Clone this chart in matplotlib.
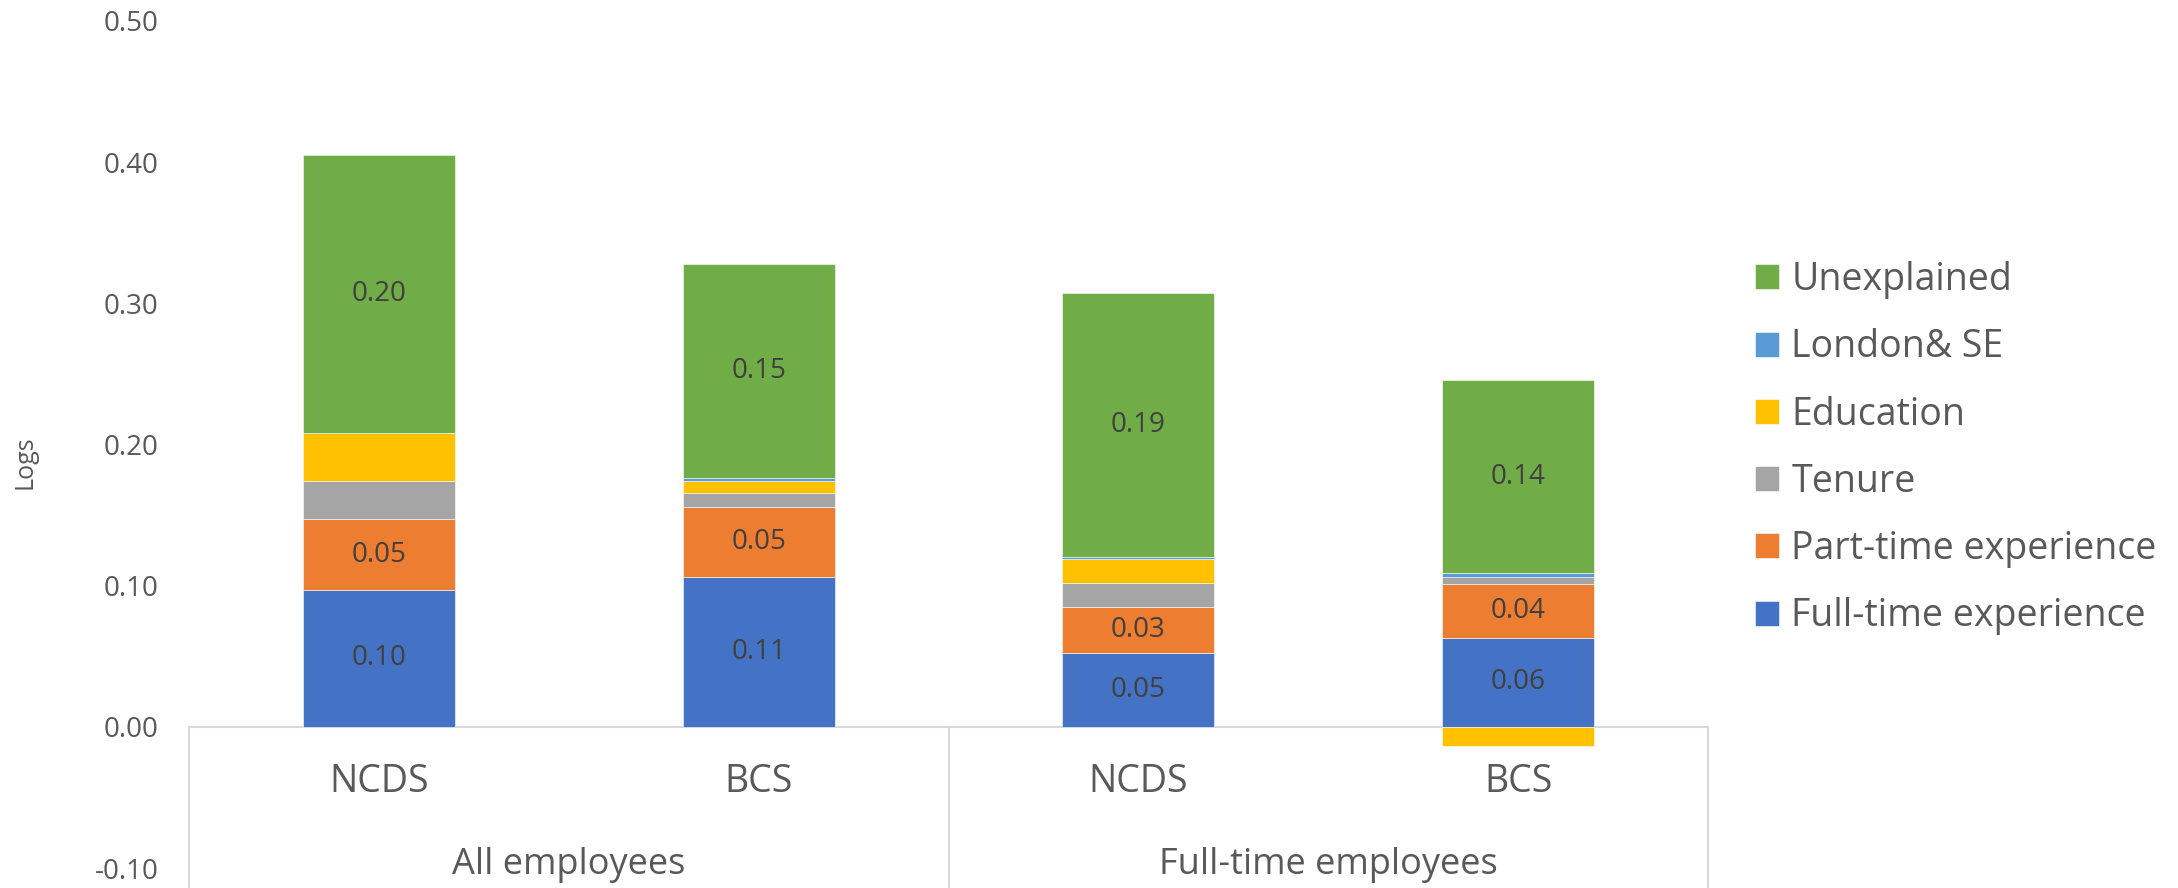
import matplotlib.pyplot as plt
import numpy as np

# data
groups = ["All employees", "Full-time employees"]
cohorts = ["NCDS", "BCS", "NCDS", "BCS"]
full_time = [0.097, 0.106, 0.052, 0.063]
part_time = [0.050, 0.050, 0.033, 0.038]
tenure = [0.027, 0.0095, 0.0166, 0.005]
education = [0.034, 0.0087, 0.017, -0.0137]
london = [0.0, 0.0019, 0.0014, 0.0028]
unexplained = [0.197, 0.152, 0.187, 0.137]

series = [
    ("Full-time experience", full_time, "#4472C4", True),
    ("Part-time experience", part_time, "#ED7D31", True),
    ("Tenure", tenure, "#A5A5A5", False),
    ("Education", education, "#FFC000", False),
    ("London& SE", london, "#5B9BD5", False),
    ("Unexplained", unexplained, "#70AD47", True),
]

main_font = ["Open Sans", "DejaVu Sans"]

fig = plt.figure(figsize=(21.78, 8.88), dpi=100)
ax = fig.add_axes([0.0868, 0.0225, 0.6974, 0.9539])

x = np.arange(len(cohorts))
pos_bottom = np.zeros(len(cohorts))
neg_bottom = np.zeros(len(cohorts))
handles = []
for name, vals, col, show in series:
    vals = np.array(vals)
    bottom = np.where(vals >= 0, pos_bottom, neg_bottom)
    bars = ax.bar(x, vals, 0.4, bottom=bottom, color=col, label=name,
                  edgecolor="white", linewidth=0.4, zorder=2)
    pos_bottom += np.where(vals >= 0, vals, 0)
    neg_bottom += np.where(vals < 0, vals, 0)
    handles.append(bars)
    if show:
        ax.bar_label(bars, labels=[f"{v:.2f}" for v in vals], label_type="center",
                     fontsize=20, color="#404040", family=main_font)

ax.set_xlim(-0.5, 3.5)
ax.set_ylim(-0.10, 0.50)
ax.set_yticks(np.arange(-0.10, 0.51, 0.10))
ax.set_yticklabels([f"{t:.2f}" for t in np.arange(-0.10, 0.51, 0.10)],
                   fontsize=20, color="#595959", family=main_font)
ax.tick_params(axis="y", length=0, pad=22)
ax.set_xticks([])
for s in ax.spines.values():
    s.set_visible(False)

ax.axhline(0, color="#D9D9D9", lw=1.5, zorder=1)
for xs in [-0.5, 1.5, 3.5]:
    ax.plot([xs, xs], [0, -0.12], color="#D9D9D9", lw=1.5, clip_on=False, zorder=1)

for i, c in enumerate(cohorts):
    ax.text(x[i], -0.039, c, ha="center", va="center", fontsize=27,
            color="#595959", family=main_font)
for i, g in enumerate(groups):
    ax.text(0.5 + 2 * i, -0.098, g, ha="center", va="center", fontsize=26,
            color="#595959", family=main_font)

fig.text(0.0115, 0.48, "Logs", rotation=90, ha="center", va="center",
         fontsize=18, color="#595959", family=main_font)

leg = ax.legend(handles[::-1], [s[0] for s in series][::-1],
                loc="upper left", bbox_to_anchor=(0.8058, 0.706),
                bbox_transform=fig.transFigure, frameon=False,
                prop={"family": main_font, "size": 27},
                handlelength=0.64, handleheight=0.64, handletextpad=0.33,
                labelspacing=0.78, borderpad=0, borderaxespad=0)
for t in leg.get_texts():
    t.set_color("#595959")

fig.savefig("out.png", dpi=100)
